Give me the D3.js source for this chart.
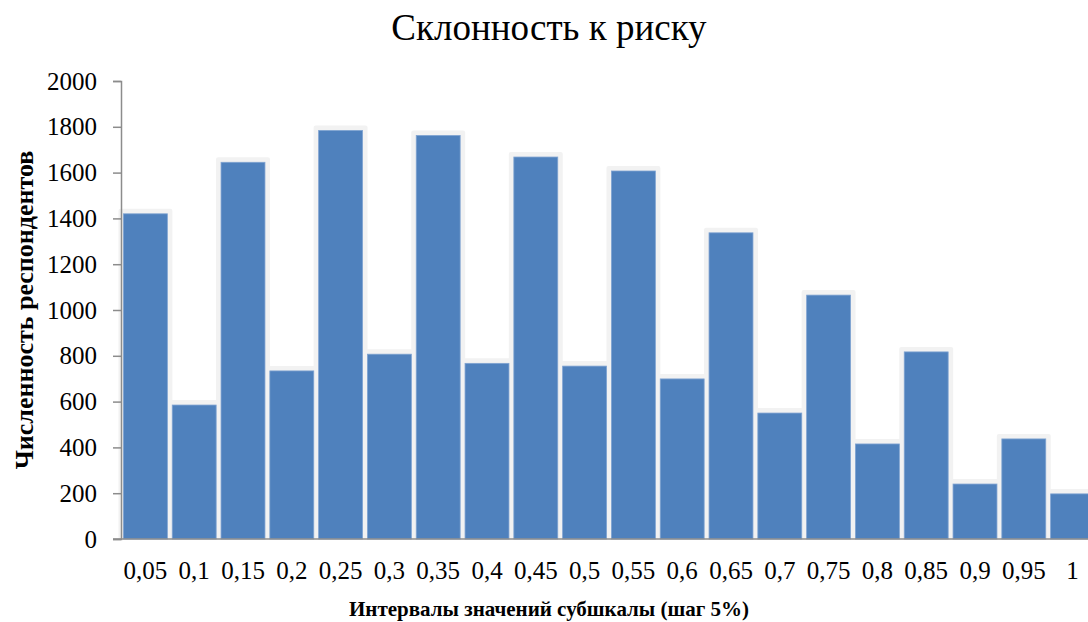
<!DOCTYPE html>
<html>
<head>
<meta charset="utf-8">
<script src="https://cdn.jsdelivr.net/npm/d3@7"></script>
<style>
  body { margin: 0; background: #fff; }
  text { font-family: "Liberation Serif", "Times New Roman", serif; }
</style>
</head>
<body>
<div id="chart"></div>
<script>
// data
var categories = ["0,05", "0,1", "0,15", "0,2", "0,25", "0,3", "0,35", "0,4", "0,45", "0,5",
                  "0,55", "0,6", "0,65", "0,7", "0,75", "0,8", "0,85", "0,9", "0,95", "1"];
var counts = [1420, 585, 1645, 734, 1784, 807, 1762, 767, 1668, 755,
              1607, 699, 1337, 550, 1065, 415, 817, 240, 437, 197];
var yTicks = [0, 200, 400, 600, 800, 1000, 1200, 1400, 1600, 1800, 2000];

var chartTitle = "Склонность к риску";
var xTitle = "Интервалы значений субшкалы (шаг 5%)";
var yTitle = "Численность респондентов";

function drawChart() {
    var svgWidth = 1088, svgHeight = 622;

    var svg = d3.select("#chart")
        .append("svg")
        .attr("width", svgWidth)
        .attr("height", svgHeight);

    // plot area (right side runs past the picture edge, like the original)
    var plotLeft = 121, plotRight = 1097, plotTop = 81, plotBottom = 539;

    var x = d3.scaleBand()
        .domain(categories)
        .range([plotLeft, plotRight])
        .paddingInner(0.1)
        .paddingOuter(0.05);

    var y = d3.scaleLinear()
        .domain([0, 2000])
        .range([plotBottom, plotTop]);

    var data = categories.map(function (c, i) { return { cat: c, val: counts[i] }; });

    // light grey glow behind every bar
    svg.append("g")
        .selectAll("rect")
        .data(data)
        .enter()
        .append("rect")
        .attr("x", d => x(d.cat) - 5)
        .attr("y", d => y(d.val) - 5)
        .attr("width", x.bandwidth() + 10)
        .attr("height", d => plotBottom - y(d.val) + 5)
        .attr("rx", 2)
        .attr("fill", "#f2f2f2");

    // the bars
    svg.append("g")
        .selectAll("rect")
        .data(data)
        .enter()
        .append("rect")
        .attr("x", d => x(d.cat))
        .attr("y", d => y(d.val))
        .attr("width", x.bandwidth())
        .attr("height", d => plotBottom - y(d.val))
        .attr("fill", "#4f81bd")
        .attr("stroke", "#7fa3d1")
        .attr("stroke-width", 0.8);

    // y axis
    var yAxis = d3.axisLeft(y)
        .tickValues(yTicks)
        .tickSize(8)
        .tickPadding(16)
        .tickFormat(d3.format("d"));

    var yg = svg.append("g")
        .attr("transform", "translate(" + plotLeft + ",0)")
        .call(yAxis);
    yg.select(".domain").attr("stroke", "#8c8c8c").attr("stroke-width", 1.5);
    yg.selectAll(".tick line").attr("stroke", "#8c8c8c").attr("stroke-width", 1.5);
    yg.selectAll(".tick text")
        .attr("font-size", 25)
        .attr("fill", "#000")
        .style("font-family", "'Liberation Serif', serif");

    // x axis
    var xAxis = d3.axisBottom(x).tickSize(0).tickPadding(22);
    var xg = svg.append("g")
        .attr("transform", "translate(0," + plotBottom + ")")
        .call(xAxis);
    xg.select(".domain").attr("stroke", "#8c8c8c").attr("stroke-width", 1.5)
        .attr("d", "M" + (plotLeft - 8) + ",0H" + plotRight);
    xg.selectAll(".tick text")
        .attr("font-size", 25)
        .attr("fill", "#000")
        .style("font-family", "'Liberation Serif', serif");

    // titles
    svg.append("text")
        .attr("x", 549)
        .attr("y", 40)
        .attr("text-anchor", "middle")
        .attr("font-size", 37)
        .text(chartTitle);

    svg.append("text")
        .attr("x", 549)
        .attr("y", 616)
        .attr("text-anchor", "middle")
        .attr("font-size", 21)
        .attr("font-weight", "bold")
        .text(xTitle);

    svg.append("text")
        .attr("transform", "translate(33,310) rotate(-90)")
        .attr("text-anchor", "middle")
        .attr("font-size", 26)
        .attr("font-weight", "bold")
        .text(yTitle);
}

drawChart();
</script>
</body>
</html>
